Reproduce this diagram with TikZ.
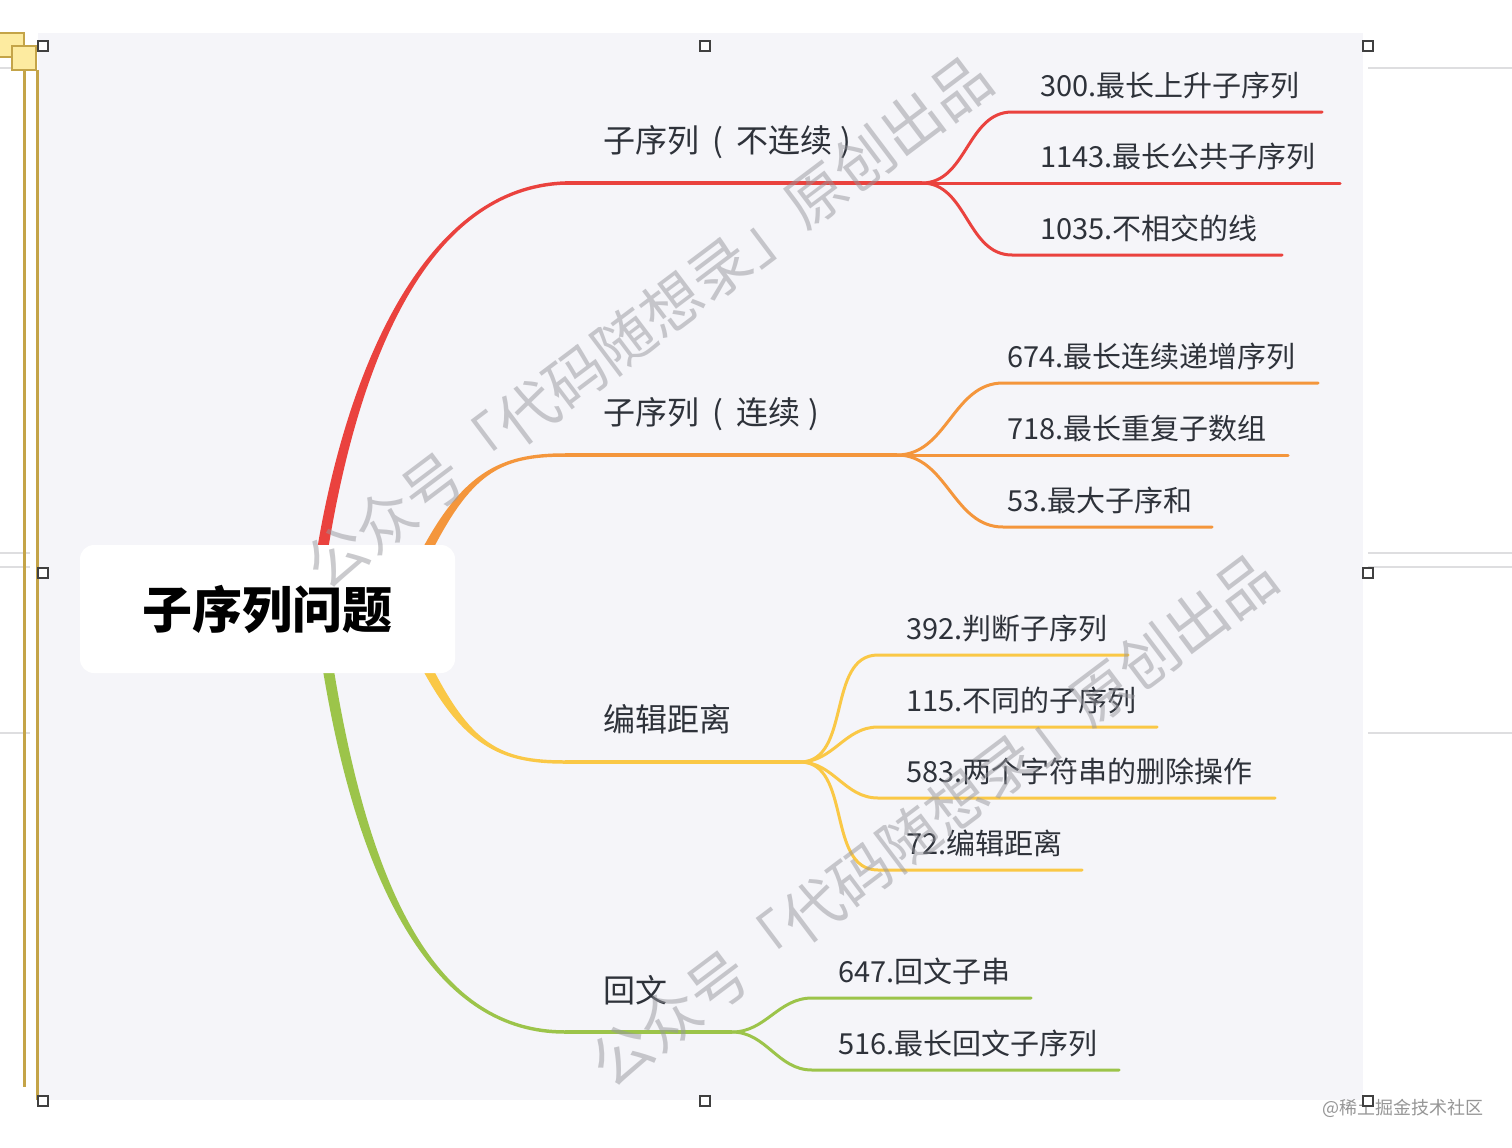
\documentclass[tikz,border=0pt]{standalone}
\usepackage{fontspec}
\setmainfont{Noto Sans CJK SC}
\definecolor{panel}{RGB}{245,245,249}
\definecolor{cred}{RGB}{234,66,62}
\definecolor{corange}{RGB}{244,150,60}
\definecolor{cyellow}{RGB}{250,200,70}
\definecolor{cgreen}{RGB}{156,196,74}
\definecolor{txt}{RGB}{46,50,58}
\definecolor{gold}{RGB}{196,164,72}
\definecolor{goldfill}{RGB}{253,235,160}
\definecolor{guide}{RGB}{222,222,224}
\definecolor{wm}{RGB}{150,150,156}
\definecolor{credit}{RGB}{150,150,150}
\newcommand\pgap{\hspace{13pt}}
\begin{document}
\begin{tikzpicture}[x=1pt,y=-1pt,
  sublbl/.style={font=\fontsize{29}{31}\selectfont, text=txt, anchor=base west, inner sep=0pt},
  brlbl/.style={font=\fontsize{32}{34}\selectfont, text=txt, anchor=base west, inner sep=0pt},
  twig/.style={line width=3pt, line cap=round},
  bar/.style={line width=3.5pt},
  handle/.style={draw=black!75, fill=white, line width=1.3pt, minimum size=10pt, inner sep=0pt, rectangle},
  rootbox/.style={rectangle, rounded corners=14pt, fill=white, minimum width=375pt, minimum height=128pt, font=\bfseries\fontsize{50}{52}\selectfont, text=black},
  guideline/.style={guide, line width=1.5pt},
  goldbar/.style={gold, line width=3pt},
  goldsq/.style={fill=goldfill, draw=gold, line width=1.5pt},
  wmark/.style={rotate=37, text=wm, opacity=0.5, font=\fontsize{60}{62}\selectfont, inner sep=0pt}
]
\useasboundingbox (0,0) rectangle (1512,1148);
\fill[white] (0,0) rectangle (1512,1148);
% panel
\fill[panel] (38,33) rectangle (1363,1100);
% guide lines
\draw[guideline] (1368,68) -- (1512,68);
\draw[guideline] (1368,553) -- (1512,553);
\draw[guideline] (1368,567) -- (1512,567);
\draw[guideline] (1368,733) -- (1512,733);
\draw[guideline] (0,68) -- (14,68);
\draw[guideline] (0,553) -- (30,553);
\draw[guideline] (0,567) -- (30,567);
\draw[guideline] (0,733) -- (30,733);
% gold bars and squares
\draw[goldbar] (24,57) -- (24,1087);
\draw[goldbar] (37,70) -- (37,1100);
\draw[goldsq] (-2,33) rectangle (24,57);
\draw[goldsq] (12,46) rectangle (36,70);

% ---- coordinates ----
\coordinate (rt0) at (320,566); \coordinate (rt1) at (348,380);
\coordinate (rt2) at (420,188); \coordinate (rb) at (565,183);
\coordinate (rh) at (922,183);
\coordinate (ot0) at (422,560); \coordinate (ot1) at (466,472);
\coordinate (ot2) at (500,455); \coordinate (ob) at (565,455);
\coordinate (oh) at (897,455);
\coordinate (yt0) at (422,658); \coordinate (yt1) at (466,746);
\coordinate (yt2) at (500,762); \coordinate (yb) at (565,762);
\coordinate (yh) at (800,762);
\coordinate (gt0) at (326,655); \coordinate (gt1) at (364,900);
\coordinate (gt2) at (440,1032); \coordinate (gb) at (565,1032);
\coordinate (gh) at (732,1032);

% ---- trunks (tapered) ----
\fill[cred] ([xshift=-5.5pt]rt0) .. controls ([xshift=-5.5pt]rt1) and ([yshift=1.75pt]rt2) .. ([yshift=1.75pt]rb)
  -- ([yshift=-1.75pt]rb) .. controls ([yshift=-1.75pt]rt2) and ([xshift=5.5pt]rt1) .. ([xshift=5.5pt]rt0) -- cycle;
\fill[corange] ([xshift=-5.5pt]ot0) .. controls ([xshift=-5pt]ot1) and ([yshift=1.75pt]ot2) .. ([yshift=1.75pt]ob)
  -- ([yshift=-1.75pt]ob) .. controls ([yshift=-1.75pt]ot2) and ([xshift=5pt]ot1) .. ([xshift=5.5pt]ot0) -- cycle;
\fill[cyellow] ([xshift=-5.5pt]yt0) .. controls ([xshift=-5pt]yt1) and ([yshift=-1.75pt]yt2) .. ([yshift=-1.75pt]yb)
  -- ([yshift=1.75pt]yb) .. controls ([yshift=1.75pt]yt2) and ([xshift=5pt]yt1) .. ([xshift=5.5pt]yt0) -- cycle;
\fill[cgreen] ([xshift=-5.5pt]gt0) .. controls ([xshift=-5.5pt]gt1) and ([yshift=-1.75pt]gt2) .. ([yshift=-1.75pt]gb)
  -- ([yshift=1.75pt]gb) .. controls ([yshift=1.75pt]gt2) and ([xshift=5.5pt]gt1) .. ([xshift=5.5pt]gt0) -- cycle;

\draw[bar, cred] (rb) -- (rh);
\draw[bar, corange] (ob) -- (oh);
\draw[bar, cyellow] (yb) -- (yh);
\draw[bar, cgreen] (gb) -- (gh);

% ---- root ----
\node[rootbox] (root) at (267.5,609) {子序列问题};

% ---- branch labels ----
\node[brlbl] (b1) at (603,152) {子序列\pgap(\pgap 不连续\hspace{8pt})};
\node[brlbl] (b2) at (603,424) {子序列\pgap(\pgap 连续\hspace{8pt})};
\node[brlbl] (b3) at (603,731) {编辑距离};
\node[brlbl] (b4) at (603,1002) {回文};

% ---- red twigs ----
\coordinate (r1a) at (1012,112); \coordinate (r1b) at (1322,112);
\coordinate (r2b) at (1340,183);
\coordinate (r3a) at (1012,255); \coordinate (r3b) at (1282,255);
\draw[twig, cred] (rh) to[out=0,in=180] (r1a) -- (r1b);
\draw[twig, cred] (rh) -- (r2b);
\draw[twig, cred] (rh) to[out=0,in=180] (r3a) -- (r3b);
\node[sublbl] (l1) at (1040,96) {300.最长上升子序列};
\node[sublbl] (l2) at (1040,167) {1143.最长公共子序列};
\node[sublbl] (l3) at (1040,239) {1035.不相交的线};

% ---- orange twigs ----
\coordinate (o1a) at (1003,383); \coordinate (o1b) at (1318,383);
\coordinate (o2b) at (1288,455);
\coordinate (o3a) at (1003,527); \coordinate (o3b) at (1212,527);
\draw[twig, corange] (oh) to[out=0,in=180] (o1a) -- (o1b);
\draw[twig, corange] (oh) -- (o2b);
\draw[twig, corange] (oh) to[out=0,in=180] (o3a) -- (o3b);
\node[sublbl] (l4) at (1007,367) {674.最长连续递增序列};
\node[sublbl] (l5) at (1007,439) {718.最长重复子数组};
\node[sublbl] (l6) at (1007,511) {53.最大子序和};

% ---- yellow twigs ----
\coordinate (y1a) at (878,655); \coordinate (y1b) at (1128,655);
\coordinate (y2a) at (878,727); \coordinate (y2b) at (1157,727);
\coordinate (y3a) at (878,798); \coordinate (y3b) at (1275,798);
\coordinate (y4a) at (878,870); \coordinate (y4b) at (1082,870);
\draw[twig, cyellow] (yh) to[out=0,in=180] (y1a) -- (y1b);
\draw[twig, cyellow] (yh) to[out=0,in=180] (y2a) -- (y2b);
\draw[twig, cyellow] (yh) to[out=0,in=180] (y3a) -- (y3b);
\draw[twig, cyellow] (yh) to[out=0,in=180] (y4a) -- (y4b);
\node[sublbl] (l7) at (906,639) {392.判断子序列};
\node[sublbl] (l8) at (906,711) {115.不同的子序列};
\node[sublbl] (l9) at (906,782) {583.两个字符串的删除操作};
\node[sublbl] (l10) at (906,854) {72.编辑距离};

% ---- green twigs ----
\coordinate (g1a) at (812,998); \coordinate (g1b) at (1031,998);
\coordinate (g2a) at (812,1070); \coordinate (g2b) at (1119,1070);
\draw[twig, cgreen] (gh) to[out=0,in=180] (g1a) -- (g1b);
\draw[twig, cgreen] (gh) to[out=0,in=180] (g2a) -- (g2b);
\node[sublbl] (l11) at (838,982) {647.回文子串};
\node[sublbl] (l12) at (838,1054) {516.最长回文子序列};

% ---- watermarks ----
\node[wmark] (wm1) at (648,322) {公众号「代码随想录」原创出品};
\node[wmark] (wm2) at (933,820) {公众号「代码随想录」原创出品};

% ---- credit ----
\node[text=credit, font=\fontsize{18}{20}\selectfont, anchor=west, inner sep=0pt] (credit) at (1322,1108) {@稀土掘金技术社区};

% ---- selection handles ----
\node[handle] (h1) at (43,46) {};
\node[handle] (h2) at (705,46) {};
\node[handle] (h3) at (1368,46) {};
\node[handle] (h4) at (43,573) {};
\node[handle] (h5) at (1368,573) {};
\node[handle] (h6) at (43,1101) {};
\node[handle] (h7) at (705,1101) {};
\node[handle] (h8) at (1368,1101) {};
\end{tikzpicture}
\end{document}
